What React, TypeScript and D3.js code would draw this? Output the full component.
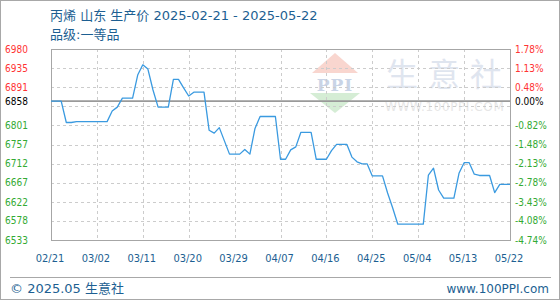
import React from "react";
import * as d3 from "d3";

const title = "丙烯 山东 生产价 2025-02-21 - 2025-05-22";
const subtitle = "品级:一等品";
const baseValue = 6858;
const startDate = new Date(2025, 1, 21);
const endDate = new Date(2025, 4, 22);

// daily prices, 2025-02-21 .. 2025-05-22
const prices = [
  6858, 6858, 6858, 6808, 6808, 6810, 6810, 6810, 6810, 6810,
  6810, 6810, 6835, 6844, 6865, 6865, 6865, 6919, 6943, 6933,
  6884, 6844, 6844, 6844, 6909, 6909, 6889, 6870, 6879, 6879,
  6879, 6790, 6783, 6796, 6765, 6734, 6734, 6734, 6745, 6734,
  6794, 6822, 6822, 6822, 6822, 6722, 6722, 6744, 6751, 6785,
  6785, 6785, 6722, 6722, 6722, 6742, 6757, 6757, 6757, 6727,
  6716, 6711, 6711, 6683, 6683, 6683, 6643, 6608, 6570, 6570,
  6570, 6570, 6570, 6570, 6685, 6701, 6650, 6631, 6631, 6631,
  6689, 6714, 6714, 6687, 6684, 6684, 6684, 6644, 6663, 6663,
  6663,
];

const xTickLabels = ["02/21", "03/02", "03/11", "03/20", "03/29", "04/07", "04/16", "04/25", "05/04", "05/13", "05/22"];
const leftTickValues = [6980, 6935, 6891, 6858, 6801, 6757, 6712, 6667, 6622, 6578, 6533];
const rightTickLabels = ["1.78%", "1.13%", "0.48%", "0.00%", "-0.82%", "-1.48%", "-2.13%", "-2.78%", "-3.43%", "-4.08%", "-4.74%"];
const yMin = 6533;
const yMax = 6980;

const W = 560;
const H = 300;
const plot = { left: 51, right: 510, top: 49, bottom: 240 };
const blue = "#1d5f92";
const red = "#ff3333";
const green = "#33aa33";
const numFont = "'DejaVu Sans Condensed', 'DejaVu Sans', sans-serif";
const cjkFont = "'Noto Sans CJK SC', 'Noto Sans', sans-serif";
const mixFont = "'DejaVu Sans', 'Noto Sans CJK SC', sans-serif";

export default function App() {
  const dates = prices.map((_, i) => d3.timeDay.offset(startDate, i));
  const x = d3.scaleTime().domain([startDate, endDate]).range([plot.left, plot.right]);
  const y = d3.scaleLinear().domain([yMin, yMax]).range([plot.bottom, plot.top]);
  const gridValues = d3.range(11).map((i) => yMin + ((yMax - yMin) * i) / 10);
  const xTickDates = xTickLabels.map((_, i) => d3.timeDay.offset(startDate, i * 9));
  const line = d3
    .line<number>()
    .x((_, i) => x(dates[i]))
    .y((d) => y(d));
  const crisp = (v: number) => Math.round(v) + 0.5;

  return (
    <svg
      width={W}
      height={H}
      style={{ position: "absolute", left: 0, top: 0, display: "block", background: "#fff" }}
    >
      <rect x={0.5} y={0.5} width={W - 1} height={H - 1} fill="#fff" stroke="#a8a8a8" />

      {/* watermark */}
      <g>
        <polygon points="312,73 358,73 335,53" fill="#f9d6cf" />
        <polygon points="310,93 360,93 335,113" fill="#d5edd5" />
        <text x={335} y={91} textAnchor="middle" fontFamily="'DejaVu Serif', serif" fontWeight="bold" fontSize={17} fill="#c9d4e6" letterSpacing={1}>
          PPI
        </text>
        <text x={386} y={86} fontFamily={cjkFont} fontSize={32} fill="#dfe5ef" letterSpacing={10}>
          生意社
        </text>
        <text x={385} y={111} fontFamily="'DejaVu Sans', sans-serif" fontSize={12} fill="#e6e6e6" letterSpacing={0.6}>
          WWW.100PPI.COM
        </text>
      </g>

      {/* horizontal grid */}
      {gridValues.map((v, i) => (
        <line key={"hg" + i} x1={plot.left} x2={plot.right} y1={crisp(y(v))} y2={crisp(y(v))} stroke="#cccccc" strokeDasharray="3,3" />
      ))}
      {/* vertical grid */}
      {xTickDates.map((d, i) => (
        <line key={"vg" + i} x1={crisp(x(d))} x2={crisp(x(d))} y1={plot.top} y2={plot.bottom} stroke="#cccccc" strokeDasharray="3,3" />
      ))}
      {/* frame */}
      <rect
        x={crisp(plot.left)}
        y={crisp(plot.top)}
        width={Math.round(plot.right - plot.left)}
        height={Math.round(plot.bottom - plot.top)}
        fill="none"
        stroke="#a6a6a6"
      />
      {/* base line */}
      <line x1={plot.left} x2={plot.right} y1={y(baseValue)} y2={y(baseValue)} stroke="#9a9a9a" strokeWidth={1.6} />

      {/* price line */}
      <path d={line(prices) || ""} fill="none" stroke="#3a9ae0" strokeWidth={1.3} strokeLinejoin="round" />

      {/* left axis labels */}
      {leftTickValues.map((v, i) => (
        <text
          key={"l" + i}
          x={5}
          y={y(v)}
          dy="0.36em"
          fontFamily={numFont}
          fontSize={10}
          fill={v > baseValue ? red : v < baseValue ? green : "#000"}
        >
          {v}
        </text>
      ))}
      {/* right axis labels */}
      {leftTickValues.map((v, i) => (
        <text
          key={"r" + i}
          x={515}
          y={y(v)}
          dy="0.36em"
          fontFamily={numFont}
          fontSize={10}
          fill={v > baseValue ? red : v < baseValue ? green : "#000"}
        >
          {rightTickLabels[i]}
        </text>
      ))}
      {/* x axis labels */}
      {xTickDates.map((d, i) => (
        <text key={"x" + i} x={x(d) - 1} y={262} textAnchor="middle" fontFamily={numFont} fontSize={11} fill={blue}>
          {xTickLabels[i]}
        </text>
      ))}

      {/* title */}
      <text x={50} y={20} fontFamily={mixFont} fontSize={13} fill={blue}>
        {title}
      </text>
      <text x={50} y={39} fontFamily={mixFont} fontSize={13} fill={blue}>
        {subtitle}
      </text>

      {/* footer */}
      <line x1={10} x2={551} y1={277.5} y2={277.5} stroke="#a8a8a8" />
      <text x={10} y={293} fontFamily={mixFont} fontSize={13} fill={blue}>
        © 2025.05 生意社
      </text>
      <text x={549} y={293} textAnchor="end" fontFamily="'DejaVu Sans', sans-serif" fontSize={12} fill={blue}>
        www.100PPI.com
      </text>
    </svg>
  );
}
